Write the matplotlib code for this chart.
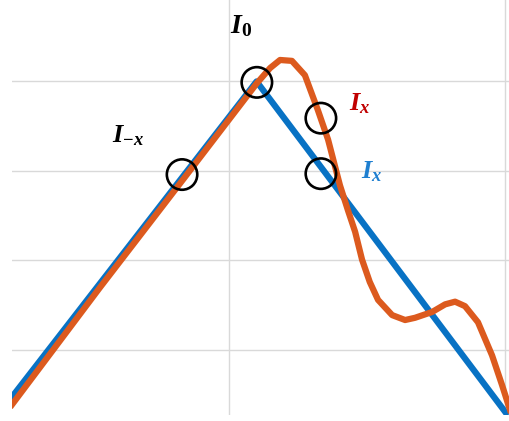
import matplotlib.pyplot as plt

plt.rcParams['mathtext.fontset'] = 'custom'
plt.rcParams['mathtext.it'] = 'Liberation Serif:italic:bold'
plt.rcParams['mathtext.rm'] = 'Liberation Serif:bold'
plt.rcParams['mathtext.bf'] = 'Liberation Serif:bold'

# ideal (blue) response: straight rise to the peak, straight fall
ideal_x = [-7.9, 1.0, 10.1]
ideal_y = [4.6, 40.0, 2.7]

meas_x = [-7.86, -4.67, -1.70, 0.04, 1.01, 1.49, 1.85, 2.28, 2.75, 3.22, 3.59,
          4.02, 4.31, 4.57, 4.82, 5.10, 5.40, 5.91, 6.38, 6.74, 7.36, 7.83,
          8.19, 8.55, 9.02, 9.53, 9.89, 10.18]
meas_y = [3.9, 17.0, 28.9, 35.9, 39.8, 41.5, 42.4, 42.3, 40.7, 36.8, 33.5,
          28.4, 25.6, 23.2, 20.1, 17.6, 15.6, 13.9, 13.35, 13.6, 14.25, 15.1,
          15.4, 14.9, 13.1, 9.4, 6.1, 3.3]

# circled points
circ_x = [1.01, 3.33, 3.33, -1.70]
circ_y = [39.9, 35.9, 29.7, 29.6]

fig = plt.figure(figsize=(5.10, 4.21), dpi=100)
ax = fig.add_axes([12 / 510, 6 / 421, 498 / 510, 415 / 421])

ax.set_xlim(-7.86, 10.18)
ax.set_ylim(2.74, 49.1)
ax.set_xticks([0, 10])
ax.set_yticks([10, 20, 30, 40])
ax.grid(True, color='#d9d9d9', linewidth=1.0)
ax.set_axisbelow(True)
ax.tick_params(length=0, labelbottom=False, labelleft=False)
for s in ax.spines.values():
    s.set_visible(False)

ax.plot(ideal_x, ideal_y, color='#0872C4', linewidth=4.5, solid_capstyle='butt')
ax.plot(meas_x, meas_y, color='#DC5A1E', linewidth=4.5, solid_joinstyle='round')
ax.scatter(circ_x, circ_y, s=480, facecolors='none', edgecolors='black',
           linewidths=1.9, zorder=5)

ax.text(0.45, 46.3, r'$I_0$', color='black', fontsize=20, ha='center', va='center')
ax.text(-3.66, 34.0, r'$I_{-x}$', color='black', fontsize=19, ha='center', va='center')
ax.text(4.75, 37.6, r'$I_x$', color='#C00000', fontsize=19, ha='center', va='center')
ax.text(5.18, 29.9, r'$I_x$', color='#1F7FD0', fontsize=19, ha='center', va='center')

fig.savefig('out.png', dpi=100)
